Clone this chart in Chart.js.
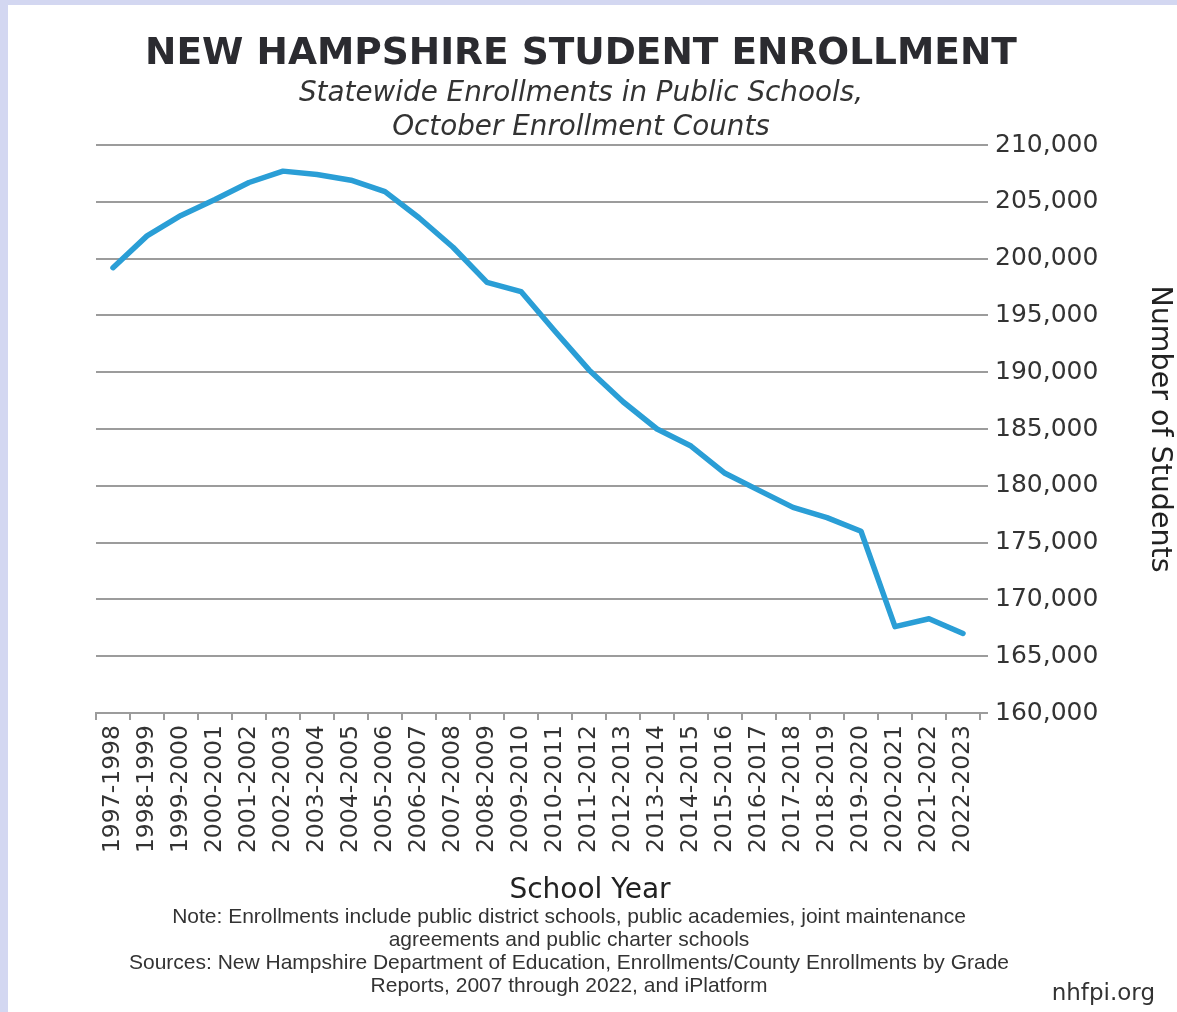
<!DOCTYPE html>
<html lang="en">
<head>
    <meta charset="UTF-8">
    <title>New Hampshire Student Enrollment</title>
    <script src="https://cdn.jsdelivr.net/npm/chart.js"></script>
    <style>
        body {
            margin: 0;
            width: 1177px;
            height: 1012px;
            overflow: hidden;
            background: #d3d7f1;
        }
        #panel {
            position: absolute;
            left: 8px;
            top: 5px;
            width: 1169px;
            height: 1007px;
            background: #ffffff;
        }
        #enrollChart {
            position: absolute;
            left: 0;
            top: 0;
        }
        .txt {
            position: absolute;
            left: 0;
            text-align: center;
            white-space: nowrap;
            color: #333;
        }
        #title {
            top: 28px;
            width: 1146px;
            font: bold 37.5px "DejaVu Sans", sans-serif;
            line-height: 1;
            color: #2b2b30;
        }
        #subtitle {
            top: 70px;
            width: 1146px;
            font: oblique 27.8px "DejaVu Sans", sans-serif;
            line-height: 34px;
        }
        #xtitle {
            top: 870px;
            width: 1164px;
            font: 28px "DejaVu Sans", sans-serif;
            line-height: 1;
            color: #222;
        }
        #notes {
            top: 899px;
            width: 1122px;
            font: 21px "Liberation Sans", sans-serif;
            line-height: 23px;
        }
        #site {
            left: auto;
            right: 22px;
            top: 976px;
            font: 23px "DejaVu Sans", sans-serif;
            line-height: 1;
        }
    </style>
</head>
<body>
    <div id="panel">
        <canvas id="enrollChart" width="1169" height="1007"></canvas>
        <div id="title" class="txt">NEW HAMPSHIRE STUDENT ENROLLMENT</div>
        <div id="subtitle" class="txt">Statewide Enrollments in Public Schools,<br>October Enrollment Counts</div>
        <div id="xtitle" class="txt">School Year</div>
        <div id="notes" class="txt">
            Note: Enrollments include public district schools, public academies, joint maintenance<br>
            agreements and public charter schools<br>
            Sources: New Hampshire Department of Education, Enrollments/County Enrollments by Grade<br>
            Reports, 2007 through 2022, and iPlatform
        </div>
        <div id="site" class="txt">nhfpi.org</div>
    </div>

    <script>
        const schoolYears = [
            "1997-1998", "1998-1999", "1999-2000", "2000-2001", "2001-2002", "2002-2003",
            "2003-2004", "2004-2005", "2005-2006", "2006-2007", "2007-2008", "2008-2009",
            "2009-2010", "2010-2011", "2011-2012", "2012-2013", "2013-2014", "2014-2015",
            "2015-2016", "2016-2017", "2017-2018", "2018-2019", "2019-2020", "2020-2021",
            "2021-2022", "2022-2023"
        ];

        const enrollment = [
            199200, 202000, 203800, 205200, 206700, 207700,
            207400, 206900, 205900, 203600, 201000, 197900,
            197100, 193600, 190200, 187400, 185000, 183500,
            181100, 179600, 178100, 177200, 176000, 167600,
            168300, 167000
        ];

        const yMin = 160000;
        const yMax = 210000;
        const yStep = 5000;

        const gridGray = "#9c9c9c";

        const chartData = {
            labels: schoolYears,
            datasets: [
                {
                    label: "Enrollment",
                    data: enrollment,
                    borderColor: "#2a9ed6",
                    borderWidth: 5.5,
                    borderJoinStyle: "round",
                    borderCapStyle: "round",
                    pointRadius: 0,
                    tension: 0,
                    fill: false,
                },
            ],
        };

        const chartConfig = {
            type: "line",
            data: chartData,
            options: {
                responsive: false,
                animation: false,
                layout: {
                    padding: { left: 88, right: 0, top: 140, bottom: 105 },
                },
                plugins: {
                    legend: { display: false },
                    tooltip: { enabled: false },
                },
                scales: {
                    x: {
                        offset: true,
                        grid: {
                            offset: true,
                            drawOnChartArea: false,
                            drawTicks: true,
                            tickLength: 7,
                            color: gridGray,
                            lineWidth: 2,
                        },
                        border: { display: true, color: gridGray, width: 2 },
                        ticks: {
                            autoSkip: false,
                            minRotation: 90,
                            maxRotation: 90,
                            padding: 5,
                            color: "#333",
                            font: { family: "DejaVu Sans", size: 23.5 },
                        },
                        afterFit: (scale) => { scale.height = 194; },
                    },
                    y: {
                        position: "right",
                        min: yMin,
                        max: yMax,
                        grid: { color: gridGray, lineWidth: 2, tickLength: 8 },
                        border: { display: false },
                        ticks: {
                            stepSize: yStep,
                            padding: 7,
                            color: "#333",
                            font: { family: "DejaVu Sans", size: 25 },
                            callback: (v) => v.toLocaleString("en-US"),
                        },
                        title: {
                            display: true,
                            text: "Number of Students",
                            color: "#222",
                            font: { family: "DejaVu Sans", size: 28.5 },
                            padding: { top: 0, bottom: 0 },
                        },
                        afterFit: (scale) => { scale.width = 197; },
                    },
                },
            },
        };

        new Chart(document.getElementById("enrollChart").getContext("2d"), chartConfig);
    </script>
</body>
</html>
